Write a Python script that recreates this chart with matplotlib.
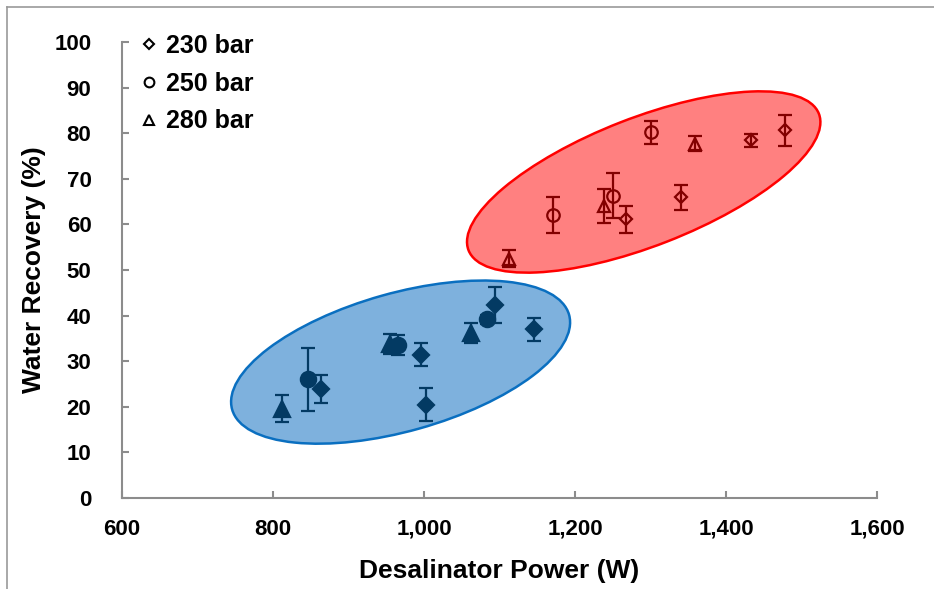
import matplotlib
matplotlib.use("Agg")
import matplotlib.pyplot as plt
from matplotlib.patches import Ellipse
from matplotlib.lines import Line2D
from matplotlib.transforms import Affine2D
from matplotlib.ticker import FuncFormatter

# ---------------------------------------------------------------------------
# Data: (power W, recovery %, error %) per pressure, low- and high-power groups
# ---------------------------------------------------------------------------
low_230_x = [864, 996, 1002, 1094, 1146]
low_230_y = [23.9, 31.4, 20.5, 42.3, 37.0]
low_230_err = [3.0, 2.5, 3.6, 3.9, 2.5]

low_250_x = [847, 966, 1083]
low_250_y = [26.0, 33.6, 39.2]
low_250_err = [7.0, 2.2, 1.0]

low_280_x = [812, 955, 1062]
low_280_y = [19.6, 33.8, 36.2]
low_280_err = [3.0, 2.2, 2.2]

high_230_x = [1267, 1340, 1433, 1478]
high_230_y = [61.1, 65.9, 78.4, 80.6]
high_230_err = [3.0, 2.7, 1.5, 3.5]

high_250_x = [1171, 1250, 1300]
high_250_y = [62.0, 66.3, 80.2]
high_250_err = [3.9, 5.0, 2.5]

high_280_x = [1112, 1238, 1359]
high_280_y = [52.5, 64.0, 77.7]
high_280_err = [1.8, 3.8, 1.6]

pressure_labels = ["230 bar", "250 bar", "280 bar"]

BLUE_MK = "#033a63"
RED_MK = "#820000"
AXIS_GREY = "#8c8c8c"
FONT = ["Liberation Sans", "DejaVu Sans"]

plt.rcParams["font.family"] = FONT
plt.rcParams["font.weight"] = "bold"

W_PX, H_PX = 934, 589
fig = plt.figure(figsize=(W_PX / 100, H_PX / 100), dpi=100)
ax = fig.add_axes([122 / W_PX, 91 / H_PX, 755 / W_PX, 456 / H_PX])
ax.set_xlim(600, 1600)
ax.set_ylim(0, 100)

# data units per screen pixel
sx = 1000 / 755
sy = 100 / 456


def pixel_ellipse(cx, cy, a_px, b_px, angle, face, edge):
    """Ellipse centred in data coords, sized/rotated in screen pixels."""
    tr = Affine2D().scale(sx, sy).translate(cx, cy) + ax.transData
    e = Ellipse((0, 0), 2 * a_px, 2 * b_px, angle=angle, transform=tr,
                facecolor=face, edgecolor=edge, linewidth=1.8, zorder=1)
    ax.add_patch(e)


pixel_ellipse(969, 29.8, 175, 69, 15.7, "#7eb1dd", "#0a6fc0")
pixel_ellipse(1291, 69.3, 188, 64, 21.3, "#ff8080", "#ff0000")


def series(x, y, err, marker, ms, color, filled):
    ax.errorbar(x, y, yerr=err, fmt="none", ecolor=color, elinewidth=1.6,
                capsize=5, capthick=1.6, zorder=3)
    ax.plot(x, y, linestyle="none", marker=marker, markersize=ms,
            markerfacecolor=color if filled else "none",
            markeredgecolor=color, markeredgewidth=1.6, zorder=4)


series(low_230_x, low_230_y, low_230_err, "D", 8, BLUE_MK, True)
series(low_250_x, low_250_y, low_250_err, "o", 11, BLUE_MK, True)
series(low_280_x, low_280_y, low_280_err, "^", 11, BLUE_MK, True)
series(high_230_x, high_230_y, high_230_err, "D", 6, RED_MK, False)
series(high_250_x, high_250_y, high_250_err, "o", 9, RED_MK, False)
series(high_280_x, high_280_y, high_280_err, "^", 8.5, RED_MK, False)

# axes styling
for side in ("top", "right"):
    ax.spines[side].set_visible(False)
for side in ("left", "bottom"):
    ax.spines[side].set_color(AXIS_GREY)
    ax.spines[side].set_linewidth(1.5)
ax.set_xticks(range(600, 1601, 200))
ax.set_yticks(range(0, 101, 10))
ax.xaxis.set_major_formatter(FuncFormatter(lambda v, p: f"{int(v):,}"))
ax.tick_params(direction="in", length=5, width=1.5, color=AXIS_GREY,
               labelsize=16)
ax.tick_params(axis="x", pad=15)
ax.tick_params(axis="y", pad=22)
ax.set_xlabel("Desalinator Power (W)", fontsize=19, fontweight="bold", labelpad=14)
ax.set_ylabel("Water Recovery (%)", fontsize=19, fontweight="bold", labelpad=6)

# legend with hollow black markers
handles = [
    Line2D([], [], linestyle="none", marker="D", markersize=5,
           markerfacecolor="none", markeredgecolor="black", markeredgewidth=1.5),
    Line2D([], [], linestyle="none", marker="o", markersize=7,
           markerfacecolor="none", markeredgecolor="black", markeredgewidth=1.5),
    Line2D([], [], linestyle="none", marker="^", markersize=6.5,
           markerfacecolor="none", markeredgecolor="black", markeredgewidth=1.5),
]
ax.legend(handles, pressure_labels, loc="upper left", frameon=False,
          bbox_to_anchor=(0.013, 1.04), fontsize=18, handlelength=0.6,
          handletextpad=0.35, labelspacing=0.55, borderaxespad=0)

# chart-area border (left and top edges visible in the original crop)
fig.add_artist(Line2D([7 / W_PX, 7 / W_PX], [0, 1 - 7 / H_PX],
                      transform=fig.transFigure, color="#9a9a9a", linewidth=1.2))
fig.add_artist(Line2D([7 / W_PX, 1], [1 - 7 / H_PX, 1 - 7 / H_PX],
                      transform=fig.transFigure, color="#9a9a9a", linewidth=1.2))

fig.savefig("out.png", dpi=100)
